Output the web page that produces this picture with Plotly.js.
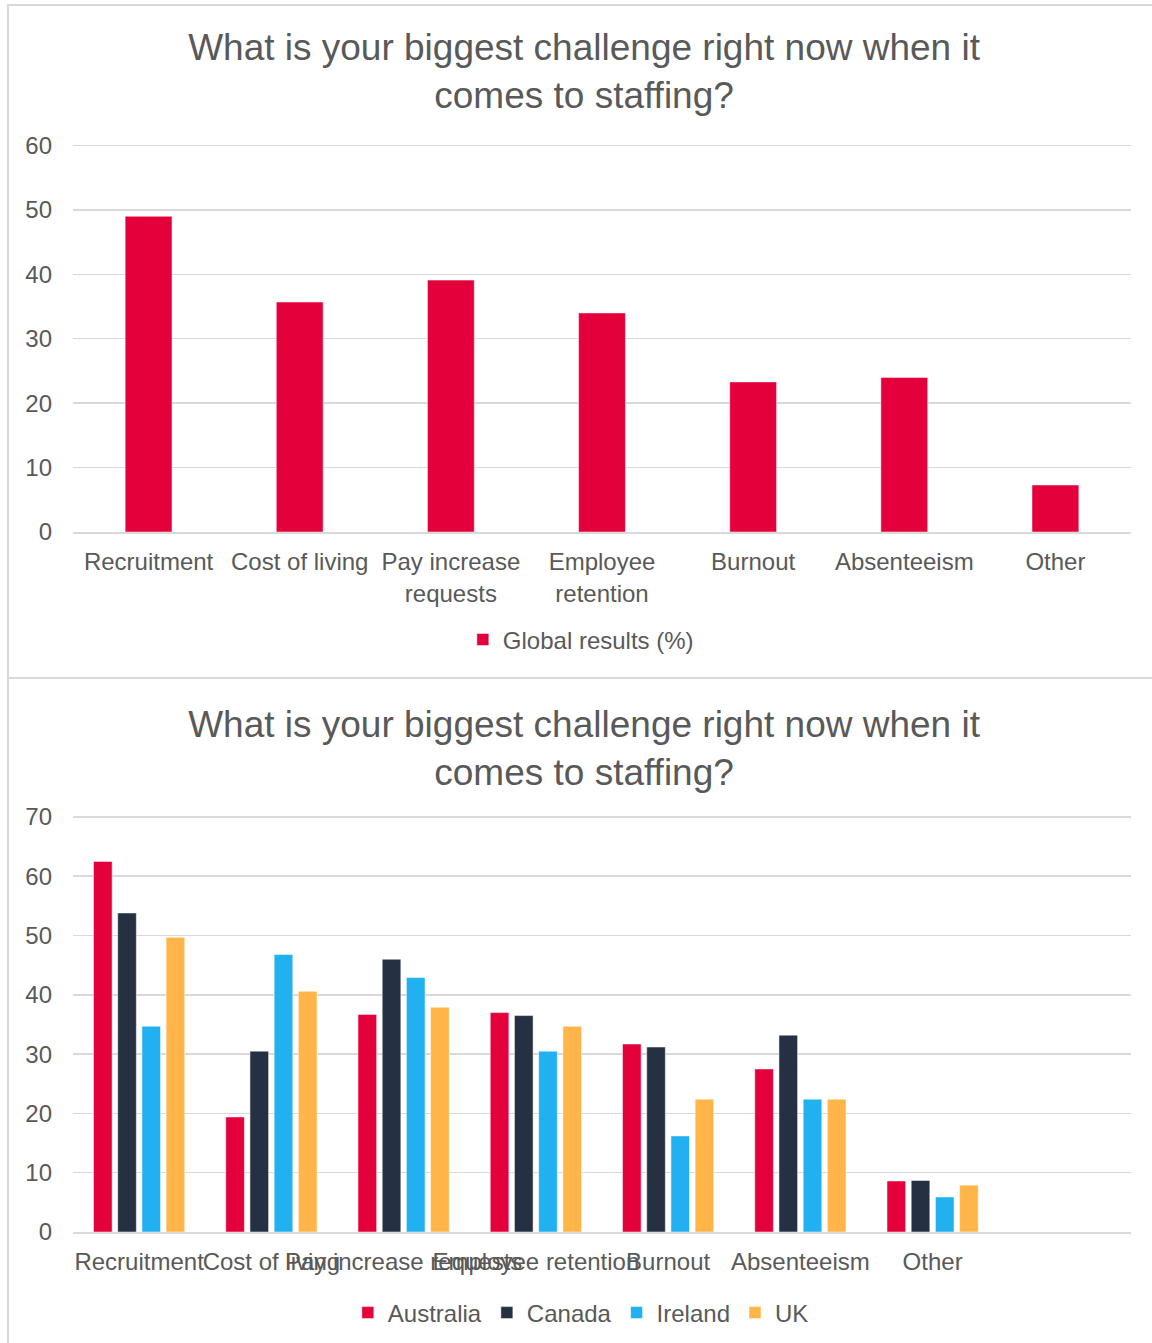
<!DOCTYPE html>
<html>
<head>
<meta charset="utf-8">
<script src="https://cdn.plot.ly/plotly-3.0.1.min.js"></script>
<style>
  html, body { margin: 0; padding: 0; background: #ffffff; width: 1152px; height: 1343px; overflow: hidden; }
  #c1 { position: absolute; left: 0; top: 0; width: 1152px; height: 677px; }
  #c2 { position: absolute; left: 0; top: 677px; width: 1152px; height: 666px; }
  .frame { position: absolute; border: 2px solid #d9d9d9; pointer-events: none; box-sizing: border-box; }
</style>
</head>
<body>
<div id="c1"></div>
<div id="c2"></div>
<div class="frame" style="left:7px; top:4px; width:1160px; height:675px;"></div>
<div class="frame" style="left:7px; top:677px; width:1160px; height:680px;"></div>
<script>
// ---- Data ----
const chartTitle = "What is your biggest challenge right now when it<br>comes to staffing?";

const globalCategories = ["Recruitment", "Cost of living", "Pay increase<br>requests", "Employee<br>retention", "Burnout", "Absenteeism", "Other"];
const globalSeriesName = "Global results (%)";
const globalValues = [49.0, 35.7, 39.1, 34.0, 23.3, 24.0, 7.3];

const countryCategories = ["Recruitment", "Cost of living", "Pay increase requests", "Employee retention", "Burnout", "Absenteeism", "Other"];
const countryNames = ["Australia", "Canada", "Ireland", "UK"];
const australiaValues = [62.5, 19.4, 36.7, 37.0, 31.7, 27.5, 8.6];
const canadaValues    = [53.8, 30.5, 46.0, 36.5, 31.2, 33.2, 8.7];
const irelandValues   = [34.7, 46.8, 42.9, 30.5, 16.2, 22.4, 5.9];
const ukValues        = [49.7, 40.6, 37.9, 34.7, 22.4, 22.4, 7.9];

const globalTicks = [0, 10, 20, 30, 40, 50, 60];
const countryTicks = [0, 10, 20, 30, 40, 50, 60, 70];

// ---- Styles ----
const textColor = "#595959";
const gridColor = "#d9d9d9";
const fontFamily = "Liberation Sans, Arial, sans-serif";
const countryColors = ["#E4003B", "#253043", "#21B0F0", "#FFB547"];

// h: div height, yTopPx/yZeroPx: pixel rows (inside div) of top tick and zero
function baseLayout(h, yTopPx, yZeroPx, yMax, ticks) {
  const pxPerUnit = (yZeroPx - yTopPx) / yMax;
  const extra = 1;
  const t = yTopPx - extra * pxPerUnit;
  const b = h - yZeroPx;
  return {
    width: 1152, height: h,
    paper_bgcolor: "#ffffff", plot_bgcolor: "#ffffff",
    margin: { l: 73, r: 21, t: t, b: b, pad: 0, autoexpand: false },
    font: { family: fontFamily, color: textColor, size: 24 },
    title: {
      text: chartTitle,
      font: { family: fontFamily, size: 37, color: textColor },
      x: 0.507, xanchor: "center",
      xref: "container", yref: "container",
      y: 1 - 60 / h, yanchor: "top"
    },
    yaxis: {
      range: [0, yMax + extra], tickvals: ticks, ticktext: ticks.map(String),
      showgrid: true, gridcolor: gridColor, gridwidth: 1.5,
      zeroline: false, showline: false, ticks: "",
      tickfont: { size: 24, color: textColor }, ticklabelstandoff: 20
    },
    showlegend: true,
    legend: {
      orientation: "h", xref: "paper", yref: "paper",
      xanchor: "center", yanchor: "middle",
      font: { size: 24, color: textColor },
      itemclick: false, itemdoubleclick: false
    },
    _plotH: h - t - b, _b: b
  };
}

function finishLegendY(layout, h, legendPx) {
  const plotH = layout._plotH, b = layout._b;
  layout.legend.y = (h - legendPx - b) / plotH;
  delete layout._plotH; delete layout._b;
}

// ---- Chart 1 ----
const l1 = baseLayout(677, 145, 532, 60, globalTicks);
l1.bargap = 0.69;
l1.xaxis = {
  type: "category", showgrid: false, zeroline: false,
  showline: true, linecolor: gridColor, linewidth: 1.5,
  ticks: "outside", ticklen: 8, tickcolor: "rgba(0,0,0,0)",
  tickangle: 0, tickfont: { size: 24, color: textColor }
};
l1.legend.x = 0.48;
finishLegendY(l1, 677, 640);

Plotly.newPlot("c1", [{
  type: "bar", x: globalCategories, y: globalValues, name: globalSeriesName,
  marker: { color: "#E4003B", line: { color: "#ffffff", width: 0.5 } },
  hoverinfo: "x+y"
}], l1, { displayModeBar: false, staticPlot: true });

// ---- Chart 2 ----
const l2 = baseLayout(666, 140, 555, 70, countryTicks);
l2.barmode = "group";
l2.bargap = 0.268;
l2.bargroupgap = 0.23;
l2.xaxis = {
  type: "category", range: [-0.5, 7.5], showgrid: false, zeroline: false,
  showline: true, linecolor: gridColor, linewidth: 1.5,
  ticks: "outside", ticklen: 8, tickcolor: "rgba(0,0,0,0)",
  tickangle: 0, tickfont: { size: 24, color: textColor }
};
l2.legend.x = 0.48;
finishLegendY(l2, 666, 636);

const countrySeries = [australiaValues, canadaValues, irelandValues, ukValues];
const traces2 = countryNames.map((name, i) => ({
  type: "bar", x: countryCategories, y: countrySeries[i], name: name,
  marker: { color: countryColors[i], line: { color: "#ffffff", width: 0.5 } }
}));
Plotly.newPlot("c2", traces2, l2, { displayModeBar: false, staticPlot: true });
</script>
</body>
</html>
